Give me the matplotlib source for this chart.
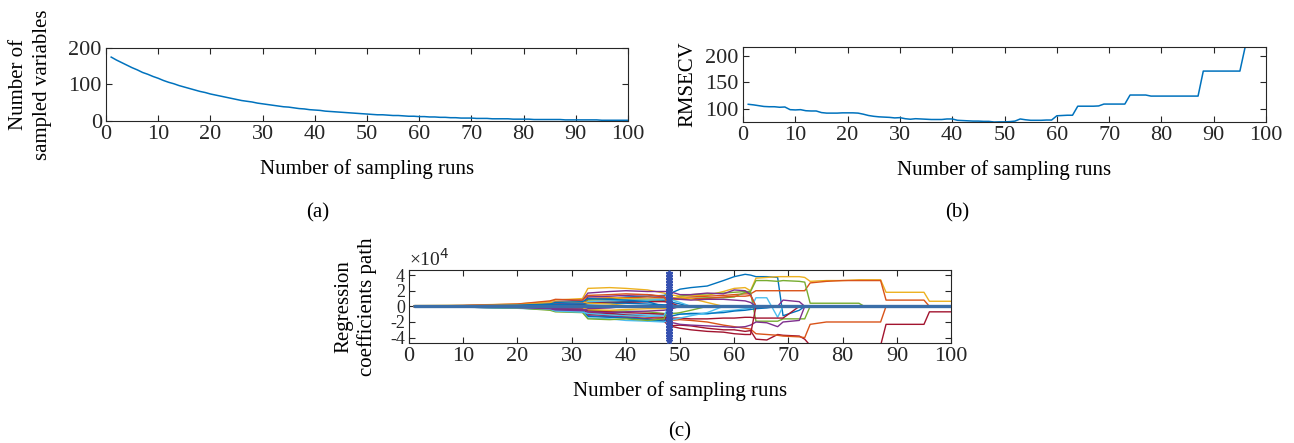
import numpy as np
import matplotlib
matplotlib.use("Agg")
import matplotlib.pyplot as plt

plt.rcParams["font.family"] = ["Liberation Serif", "DejaVu Serif"]
plt.rcParams["axes.unicode_minus"] = False

# MATLAB default line colours
c_blue, c_orange, c_yellow, c_purple = "#0072BD", "#D95319", "#EDB120", "#7E2F8E"
c_green, c_cyan, c_red = "#77AC30", "#4DBEEE", "#A2142F"

# ---- data -------------------------------------------------------------
runs = np.arange(1, 101)

# (a) number of sampled variables per run
n_vars = [175, 167, 160, 153, 146, 140, 133, 128, 122, 117,
          111, 106, 102, 97, 93, 89, 85, 81, 78, 74,
          71, 68, 65, 62, 59, 56, 54, 52, 49, 47,
          45, 43, 41, 39, 38, 36, 34, 33, 31, 30,
          29, 27, 26, 25, 24, 23, 22, 21, 20, 19,
          18, 17, 17, 16, 15, 15, 14, 13, 13, 12,
          12, 11, 11, 10, 10, 9, 9, 8, 8, 8,
          7, 7, 7, 6, 6, 6, 6, 5, 5, 5,
          5, 4, 4, 4, 4, 4, 4, 3, 3, 3,
          3, 3, 3, 3, 2, 2, 2, 2, 2, 2]

# (b) RMSECV per run
rmsecv = [108.6, 107.5, 106, 104.5, 104, 104, 103, 103.5, 98.5, 98,
          98.5, 96.5, 96, 96, 93, 92, 92, 92, 92.5, 92.5,
          92.5, 92, 90, 87.5, 86, 85, 84.5, 84, 83, 83.5,
          81.5, 80.5, 81.5, 81, 80.5, 80, 80, 80, 81, 81,
          78.5, 78, 77.5, 77, 77, 76.5, 76.5, 75.3, 75.6, 75.6,
          76, 77, 81, 79.5, 78.5, 78.5, 78.5, 79, 79, 87,
          87.5, 88, 88, 105, 105, 105, 105, 105.5, 109, 109,
          109, 109, 109, 126, 126, 126, 126, 124, 124, 124,
          124, 124, 124, 124, 124, 124, 124, 171, 171, 171,
          171, 171, 171, 171, 171, 216, 216, 216, 216, 216]

# (c) regression coefficient paths (x 1e4), read at these runs;
# a variable stays at zero after it has been eliminated
knot_runs = [1, 10, 20, 26, 27, 32, 33, 37, 40, 44, 47, 48, 50, 52, 55, 58, 60, 62,
             63, 64, 66, 68, 69, 72, 73, 74, 77, 80, 83, 84, 87, 88, 92, 95, 96, 100]
optimal_run = 48

path_colors = [c_blue, c_yellow, c_orange, c_green, c_red, c_orange, c_green, c_purple,
               c_purple, c_cyan, c_orange, c_red, c_blue, c_yellow, c_green, c_purple,
               c_cyan, c_red, c_yellow, c_blue, c_cyan, c_red, c_purple, c_blue,
               c_orange, c_green, c_cyan, c_yellow, c_purple, c_blue]
coef_paths = [
    [0.05, 0.08, 0.15, 0.25, 0.35, 0.45, 0.9, 1.0, 1.2, 1.3, 1.4, 1.6,
     2.2, 2.4, 2.6, 3.3, 3.8, 4.1, 4.0, 3.8, 3.8, 3.7, -1.2, -0.5],
    [0.1, 0.15, 0.3, 0.6, 0.8, 1.0, 2.3, 2.4, 2.3, 2.1, 1.7, 1.5,
     1.3, 1.4, 1.4, 1.9, 2.3, 2.4, 2.0, 3.6, 3.7, 3.8, 3.8, 3.8, 3.7,
     3.2, 3.3, 3.3, 3.4, 3.4, 3.4, 1.8, 1.8, 1.8, 0.65, 0.65],
    [-0.05, -0.05, 0.1, 0.2, 0.3, 0.4, 0.6, 0.7, 0.8, 0.9, 0.9, 1.0,
     1.1, 1.2, 1.3, 1.4, 1.5, 1.6, 1.6, 2.0, 2.0, 2.0, 2.0, 2.0, 2.0,
     3.0, 3.2, 3.3, 3.3, 3.3, 3.3, 0.8, 0.8, 0.8],
    [0.02, 0.05, 0.1, 0.15, 0.2, 0.2, 0.4, 0.5, 0.6, 0.7, 0.8, 0.8,
     1.3, 1.5, 1.6, 1.7, 1.8, 1.9, 1.9, 3.3, 3.3, 3.2, 3.3, 3.2, 3.1,
     0.4, 0.4, 0.4, 0.4],
    [-0.05, -0.1, -0.2, -0.3, -0.4, -0.5, -1.0, -1.2, -1.3, -1.6, -1.9, -2.5,
     -2.4, -2.5, -2.8, -3.0, -3.0, -3.2, -3.1, -4.2, -4.3, -3.6, -3.7, -3.8, -4.2,
     -5.0, -5.0, -5.0, -5.0, -5.0, -5.0, -2.3, -2.3, -2.3, -0.7, -0.7],
    [0.0, -0.05, -0.15, -0.3, -0.4, -0.5, -0.9, -1.0, -1.2, -1.4, -1.6, -1.8,
     -1.7, -1.8, -2.0, -2.4, -2.6, -2.8, -2.9, -3.5, -3.6, -3.7, -3.8, -3.9, -4.0,
     -2.3, -2.0, -2.0, -2.0, -2.0, -2.0],
    [0.0, 0.05, 0.1, 0.2, 0.3, 0.3, 0.8, 0.9, 1.0, 0.9, 0.9, 0.8,
     0.9, 1.0, 1.1, 1.1, 1.2, 1.8, 1.8, -1.9, -1.9, -1.9, -1.6, -1.6, -1.6],
    [0.05, 0.1, 0.2, 0.4, 0.6, 0.8, 1.7, 1.9, 2.0, 1.9, 1.9, 1.9,
     1.5, 1.5, 1.7, 1.6, 2.1, 2.0, 1.5],
    [-0.05, -0.1, -0.2, -0.3, -0.4, -0.5, -1.2, -1.3, -1.4, -1.6, -1.7, -2.0,
     -2.3, -2.4, -2.5, -2.6, -2.7, -2.6, -2.4, -2.0, -2.1, -2.6, -2.0, -1.8],
    [-0.05, -0.1, -0.2, -0.4, -0.5, -0.6, -0.8, -0.9, -1.0, -1.1, -1.1, -0.8,
     -1.0, -1.0, -1.0, -0.6, -0.5, -0.3, -0.3, 1.1, 1.1, -1.4],
    [0.02, 0.05, 0.1, 0.2, 0.3, 0.3, 1.0, 1.1, 1.1, 1.2, 1.1, 1.0,
     0.9, 1.0, 1.0, 1.2, 1.3, 1.3, 1.4],
    [-0.03, -0.05, -0.1, -0.2, -0.3, -0.4, -0.8, -0.9, -1.1, -1.3, -1.4, -1.5,
     -1.5, -1.6, -1.6, -1.5, -1.5, -1.4, -1.4, -1.5, -1.5, -1.5, -1.5],
    [-0.03, -0.1, -0.2, -0.35, -0.5, -0.6, -1.3, -1.4, -1.5, -1.7, -1.9, -1.3,
     -1.0, -0.9, -0.9, -0.8, -0.6, -0.5, -0.4, -0.3, -0.2],
    [0.02, 0.05, 0.1, 0.2, 0.3, 0.4, 1.3, 1.2, 1.0, 0.9, 0.8, 1.0,
     1.2, 1.0, 0.5],
    [0.0, -0.05, -0.1, -0.15, -0.2, -0.3, -0.5, -0.6, -0.6, -0.7, -0.9, -1.0,
     -0.8, -0.5],
    [0.02, 0.05, 0.1, 0.2, 0.3, 0.4, 1.2, 1.3, 1.4, 1.5, 1.2, 1.1,
     0.9, 0.8, 0.9, 0.9, 0.8, 0.7, 0.5, 0.0, 0.0, 0.0, 0.8, 0.6],
    [-0.03, -0.1, -0.25, -0.4, -0.55, -0.7, -1.5, -1.6, -1.8, -1.9, -2.0, -1.8,
     -1.5, -1.2, -0.8],
    [-0.02, -0.05, -0.1, -0.2, -0.25, -0.3, -0.6, -0.7, -0.8, -0.9, -1.0, -2.5,
     -2.8, -3.0, -3.2, -3.3, -3.5, -3.6, -3.6],
    [0.0, -0.02, -0.05, -0.1, -0.15, -0.2, -0.4, -0.5, -0.4, -0.3, -0.3, -0.2,
     -0.1],
    [0.02, 0.05, 0.1, 0.15, 0.2, 0.25, 0.5, 0.5, 0.6, 0.6, 0.7, 0.6,
     0.3],
    [0.0, 0.05, 0.1, 0.15, 0.2, 0.3, 0.6, 0.7, 0.8, 0.8, 0.9, 0.9,
     0.5],
    [0.02, 0.04, 0.08, 0.15, 0.2, 0.25, 0.4, 0.5, 0.5, 0.6, 0.6, 0.5],
    [-0.02, -0.05, -0.12, -0.2, -0.3, -0.35, -0.7, -0.8, -0.7, -0.6, -0.5, -0.4],
    [0.03, 0.06, 0.12, 0.2, 0.25, 0.3, 0.3, 0.4, 0.4, 0.3, 0.2, 0.2],
    [0.04, 0.1, 0.3, 0.7, 0.9, 0.8, 1.4, 1.5, 1.6, 1.5, 1.3],
    [-0.04, -0.1, -0.2, -0.5, -0.7, -0.8, -1.6, -1.7, -1.6, -1.8, -1.6],
    [0.0, -0.05, -0.15, -0.35, -0.6, -0.75, -0.9, -1.1, -1.2, -1.3, -1.2],
    [0.03, 0.08, 0.2, 0.45, 0.55, 0.6, 0.4, 0.3, 0.1],
    [-0.02, -0.06, -0.15, -0.3, -0.45, -0.55, -0.3, -0.2],
    [0.02, 0.06, 0.15, 0.3, 0.5, 0.6, 1.0, 0.9, 0.8, 0.6],
]

# ---- figure -----------------------------------------------------------
fs = 15
fs_tick = 16
fig = plt.figure(figsize=(12.94, 4.43), dpi=100)


def style_axes(ax):
    ax.tick_params(direction="in", top=True, right=True, length=4, width=0.8,
                   labelsize=fs_tick, colors="#262626", pad=3)
    for sp in ax.spines.values():
        sp.set_color("#262626")
        sp.set_linewidth(0.8)
    ax.set_xlim(0, 100)
    ax.set_xticks(np.arange(0, 101, 10))
    ax.set_xlabel("Number of sampling runs", fontsize=fs, labelpad=11)


# (a)
ax_a = fig.add_axes([0.0819, 0.7269, 0.4034, 0.1648])
ax_a.plot(runs, n_vars, color=c_blue, lw=1.1)
style_axes(ax_a)
ax_a.set_ylim(0, 200)
ax_a.set_yticks([0, 100, 200])
ax_a.set_ylabel("Number of\nsampled variables", fontsize=fs, linespacing=1.35, labelpad=12)

# (b)
ax_b = fig.add_axes([0.5742, 0.7246, 0.4042, 0.169])
ax_b.plot(runs, rmsecv, color=c_blue, lw=1.1)
style_axes(ax_b)
ax_b.set_ylim(min(rmsecv), max(rmsecv))
ax_b.set_yticks([100, 150, 200])
ax_b.set_ylabel("RMSECV", fontsize=fs, labelpad=6)

# (c)
ax_c = fig.add_axes([0.3161, 0.2264, 0.4189, 0.1641])
for col, vals in zip(path_colors, coef_paths):
    vals = np.pad(vals, (0, len(knot_runs) - len(vals)))
    ax_c.plot(knot_runs, vals, color=col, lw=1.0)
ax_c.hlines(0, runs[0], runs[-1], color="#3b6ea8", lw=2.4, zorder=3)
style_axes(ax_c)
ax_c.set_ylim(-4.65, 4.65)
ax_c.set_yticks([-4, -2, 0, 2, 4])
ax_c.tick_params(axis="y", labelsize=13)
lo, hi = ax_c.get_ylim()
ax_c.plot(np.full(45, optimal_run), np.linspace(lo * 0.94, hi * 0.93, 45), "-*",
          color="#3550b0", ms=4, lw=1.6, zorder=4)
ax_c.text(0.0, 1.0, "×10$^4$", transform=ax_c.transAxes, fontsize=fs - 1,
          color="#262626", ha="left", va="bottom")
ax_c.set_ylabel("Regression\ncoefficients path", fontsize=fs, linespacing=1.3, labelpad=9)

# panel captions
fig.text(0.2457, 0.52, "(a)", fontsize=fs, ha="center", va="center")
fig.text(0.7396, 0.52, "(b)", fontsize=fs, ha="center", va="center")
fig.text(0.5255, 0.025, "(c)", fontsize=fs, ha="center", va="center")

fig.savefig("out.png", dpi=100)
